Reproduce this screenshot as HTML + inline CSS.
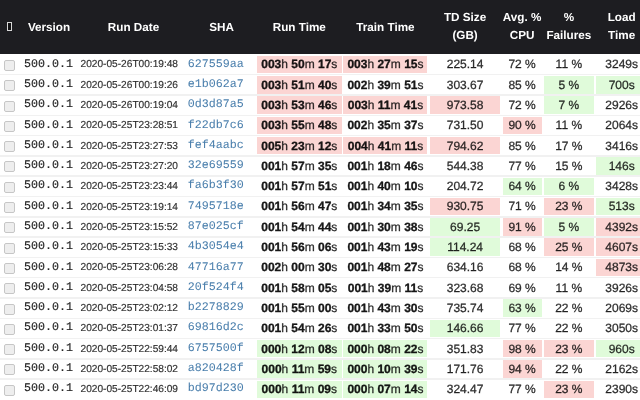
<!DOCTYPE html>
<html><head><meta charset="utf-8"><title>Runs</title>
<style>
html,body{margin:0;padding:0;background:#fff;width:640px;height:400px;overflow:hidden;}
.wrap{position:absolute;left:0;top:0;width:640px;height:400px;overflow:hidden;filter:blur(0.3px);}
body{position:relative;font-family:"Liberation Sans",Arial,sans-serif;color:rgba(0,0,0,.8);text-rendering:geometricPrecision;}
.hd{position:absolute;left:0;top:0;width:640px;height:54px;background:#1d1d21;}
.ht{position:absolute;color:#fff;font-weight:bold;font-size:11.7px;text-align:center;white-space:nowrap;line-height:18px;}
.c{position:absolute;height:17.5px;}
.p{background:#fbd5d3;}
.g{background:#e0fbda;}
.sep{position:absolute;left:0;width:640px;height:1.5px;background:#f1f1f1;}
.t{position:absolute;white-space:nowrap;font-size:12px;line-height:20px;height:20px;text-align:center;}
.t b{font-weight:bold;color:rgba(0,0,0,.9);-webkit-text-stroke:0.3px rgba(0,0,0,.9);}
.t{-webkit-text-stroke:0.3px rgba(0,0,0,.75);}
.d{position:absolute;white-space:nowrap;font-size:10.15px;-webkit-text-stroke:0.2px rgba(0,0,0,.75);line-height:20px;height:20px;}
.m{position:absolute;white-space:nowrap;font-family:"Liberation Mono",monospace;font-size:11.67px;text-rendering:geometricPrecision;line-height:20px;height:20px;}
.v{color:#222;-webkit-text-stroke:0.15px #222;}
.s{color:#4a7fac;-webkit-text-stroke:0.05px #4a7fac;}
.cb{position:absolute;width:8.8px;height:9px;border:1px solid #c6c6c6;border-radius:2px;background:#eeeeee;filter:blur(0.3px);}
.tofu{position:absolute;left:6.7px;top:22.1px;width:3.3px;height:6.8px;border:1px solid #d8d8d8;border-left-width:1.2px;background:#121214;}
</style></head><body><div class="wrap">

<div class="hd"></div>
<div class="tofu"></div>
<div class="ht" style="left:20px;width:58px;top:18.6px">Version</div>
<div class="ht" style="left:80px;width:107px;top:18.6px">Run Date</div>
<div class="ht" style="left:188.5px;width:66px;top:18.6px">SHA</div>
<div class="ht" style="left:257px;width:84.6px;top:18.6px">Run Time</div>
<div class="ht" style="left:343.4px;width:84.1px;top:18.6px">Train Time</div>
<div class="ht" style="left:430.2px;width:69.8px;top:8.7px">TD Size<br>(GB)</div>
<div class="ht" style="left:502.6px;width:39px;top:8.7px">Avg. %<br>CPU</div>
<div class="ht" style="left:543.7px;width:50.3px;top:8.7px">%<br>Failures</div>
<div class="ht" style="left:596.3px;width:50.7px;top:8.7px">Load<br>Time</div>
<div class="sep" style="top:73.95px"></div>
<div class="cb" style="left:4px;top:59.9px"></div>
<div class="m v" style="left:24.1px;top:54px">500.0.1</div>
<div class="d" style="left:80.6px;top:55px">2020-05-26T00:19:48</div>
<div class="m s" style="left:187.7px;top:54px">627559aa</div>
<div class="c p" style="left:257px;width:84.6px;top:55.7px"></div>
<div class="t" style="left:257px;width:84.6px;top:54px"><b>003</b>h <b>50</b>m <b>17</b>s</div>
<div class="c p" style="left:343.4px;width:84.1px;top:55.7px"></div>
<div class="t" style="left:343.4px;width:84.1px;top:54px"><b>003</b>h <b>27</b>m <b>15</b>s</div>
<div class="t" style="left:430.2px;width:69.8px;top:54px">225.14</div>
<div class="t" style="left:502.6px;width:39px;top:54px">72 %</div>
<div class="t" style="left:543.7px;width:50.3px;top:54px">11 %</div>
<div class="t" style="left:596.3px;width:50.7px;top:54px">3249s</div>
<div class="sep" style="top:94.25px"></div>
<div class="cb" style="left:4px;top:80.2px"></div>
<div class="m v" style="left:24.1px;top:74px">500.0.1</div>
<div class="d" style="left:80.6px;top:76px">2020-05-26T00:19:26</div>
<div class="m s" style="left:187.7px;top:74px">e1b062a7</div>
<div class="c p" style="left:257px;width:84.6px;top:76px"></div>
<div class="t" style="left:257px;width:84.6px;top:75px"><b>003</b>h <b>51</b>m <b>40</b>s</div>
<div class="t" style="left:343.4px;width:84.1px;top:75px"><b>002</b>h <b>39</b>m <b>51</b>s</div>
<div class="t" style="left:430.2px;width:69.8px;top:75px">303.67</div>
<div class="t" style="left:502.6px;width:39px;top:75px">85 %</div>
<div class="c g" style="left:543.7px;width:50.3px;top:76px"></div>
<div class="t" style="left:543.7px;width:50.3px;top:75px">5 %</div>
<div class="c g" style="left:596.3px;width:50.7px;top:76px"></div>
<div class="t" style="left:596.3px;width:50.7px;top:75px">700s</div>
<div class="sep" style="top:114.55px"></div>
<div class="cb" style="left:4px;top:100.5px"></div>
<div class="m v" style="left:24.1px;top:94px">500.0.1</div>
<div class="d" style="left:80.6px;top:96px">2020-05-26T00:19:04</div>
<div class="m s" style="left:187.7px;top:94px">0d3d87a5</div>
<div class="c p" style="left:257px;width:84.6px;top:96.3px"></div>
<div class="t" style="left:257px;width:84.6px;top:95px"><b>003</b>h <b>53</b>m <b>46</b>s</div>
<div class="c p" style="left:343.4px;width:84.1px;top:96.3px"></div>
<div class="t" style="left:343.4px;width:84.1px;top:95px"><b>003</b>h <b>11</b>m <b>41</b>s</div>
<div class="c p" style="left:430.2px;width:69.8px;top:96.3px"></div>
<div class="t" style="left:430.2px;width:69.8px;top:95px">973.58</div>
<div class="t" style="left:502.6px;width:39px;top:95px">72 %</div>
<div class="c g" style="left:543.7px;width:50.3px;top:96.3px"></div>
<div class="t" style="left:543.7px;width:50.3px;top:95px">7 %</div>
<div class="t" style="left:596.3px;width:50.7px;top:95px">2926s</div>
<div class="sep" style="top:134.85px"></div>
<div class="cb" style="left:4px;top:120.8px"></div>
<div class="m v" style="left:24.1px;top:115px">500.0.1</div>
<div class="d" style="left:80.6px;top:116px">2020-05-25T23:28:51</div>
<div class="m s" style="left:187.7px;top:115px">f22db7c6</div>
<div class="c p" style="left:257px;width:84.6px;top:116.6px"></div>
<div class="t" style="left:257px;width:84.6px;top:115px"><b>003</b>h <b>55</b>m <b>48</b>s</div>
<div class="t" style="left:343.4px;width:84.1px;top:115px"><b>002</b>h <b>35</b>m <b>37</b>s</div>
<div class="t" style="left:430.2px;width:69.8px;top:115px">731.50</div>
<div class="c p" style="left:502.6px;width:39px;top:116.6px"></div>
<div class="t" style="left:502.6px;width:39px;top:115px">90 %</div>
<div class="t" style="left:543.7px;width:50.3px;top:115px">11 %</div>
<div class="t" style="left:596.3px;width:50.7px;top:115px">2064s</div>
<div class="sep" style="top:155.15px"></div>
<div class="cb" style="left:4px;top:141.1px"></div>
<div class="m v" style="left:24.1px;top:135px">500.0.1</div>
<div class="d" style="left:80.6px;top:137px">2020-05-25T23:27:53</div>
<div class="m s" style="left:187.7px;top:135px">fef4aabc</div>
<div class="c p" style="left:257px;width:84.6px;top:136.9px"></div>
<div class="t" style="left:257px;width:84.6px;top:136px"><b>005</b>h <b>23</b>m <b>12</b>s</div>
<div class="c p" style="left:343.4px;width:84.1px;top:136.9px"></div>
<div class="t" style="left:343.4px;width:84.1px;top:136px"><b>004</b>h <b>41</b>m <b>11</b>s</div>
<div class="c p" style="left:430.2px;width:69.8px;top:136.9px"></div>
<div class="t" style="left:430.2px;width:69.8px;top:136px">794.62</div>
<div class="t" style="left:502.6px;width:39px;top:136px">85 %</div>
<div class="t" style="left:543.7px;width:50.3px;top:136px">17 %</div>
<div class="t" style="left:596.3px;width:50.7px;top:136px">3416s</div>
<div class="sep" style="top:175.45px"></div>
<div class="cb" style="left:4px;top:161.4px"></div>
<div class="m v" style="left:24.1px;top:155px">500.0.1</div>
<div class="d" style="left:80.6px;top:157px">2020-05-25T23:27:20</div>
<div class="m s" style="left:187.7px;top:155px">32e69559</div>
<div class="t" style="left:257px;width:84.6px;top:156px"><b>001</b>h <b>57</b>m <b>35</b>s</div>
<div class="t" style="left:343.4px;width:84.1px;top:156px"><b>001</b>h <b>18</b>m <b>46</b>s</div>
<div class="t" style="left:430.2px;width:69.8px;top:156px">544.38</div>
<div class="t" style="left:502.6px;width:39px;top:156px">77 %</div>
<div class="t" style="left:543.7px;width:50.3px;top:156px">15 %</div>
<div class="c g" style="left:596.3px;width:50.7px;top:157.2px"></div>
<div class="t" style="left:596.3px;width:50.7px;top:156px">146s</div>
<div class="sep" style="top:195.75px"></div>
<div class="cb" style="left:4px;top:181.7px"></div>
<div class="m v" style="left:24.1px;top:175px">500.0.1</div>
<div class="d" style="left:80.6px;top:177px">2020-05-25T23:23:44</div>
<div class="m s" style="left:187.7px;top:175px">fa6b3f30</div>
<div class="t" style="left:257px;width:84.6px;top:176px"><b>001</b>h <b>57</b>m <b>51</b>s</div>
<div class="t" style="left:343.4px;width:84.1px;top:176px"><b>001</b>h <b>40</b>m <b>10</b>s</div>
<div class="t" style="left:430.2px;width:69.8px;top:176px">204.72</div>
<div class="c g" style="left:502.6px;width:39px;top:177.5px"></div>
<div class="t" style="left:502.6px;width:39px;top:176px">64 %</div>
<div class="c g" style="left:543.7px;width:50.3px;top:177.5px"></div>
<div class="t" style="left:543.7px;width:50.3px;top:176px">6 %</div>
<div class="t" style="left:596.3px;width:50.7px;top:176px">3428s</div>
<div class="sep" style="top:216.05px"></div>
<div class="cb" style="left:4px;top:202px"></div>
<div class="m v" style="left:24.1px;top:196px">500.0.1</div>
<div class="d" style="left:80.6px;top:198px">2020-05-25T23:19:14</div>
<div class="m s" style="left:187.7px;top:196px">7495718e</div>
<div class="t" style="left:257px;width:84.6px;top:196px"><b>001</b>h <b>56</b>m <b>47</b>s</div>
<div class="t" style="left:343.4px;width:84.1px;top:196px"><b>001</b>h <b>34</b>m <b>35</b>s</div>
<div class="c p" style="left:430.2px;width:69.8px;top:197.8px"></div>
<div class="t" style="left:430.2px;width:69.8px;top:196px">930.75</div>
<div class="t" style="left:502.6px;width:39px;top:196px">71 %</div>
<div class="c p" style="left:543.7px;width:50.3px;top:197.8px"></div>
<div class="t" style="left:543.7px;width:50.3px;top:196px">23 %</div>
<div class="c g" style="left:596.3px;width:50.7px;top:197.8px"></div>
<div class="t" style="left:596.3px;width:50.7px;top:196px">513s</div>
<div class="sep" style="top:236.35px"></div>
<div class="cb" style="left:4px;top:222.3px"></div>
<div class="m v" style="left:24.1px;top:216px">500.0.1</div>
<div class="d" style="left:80.6px;top:218px">2020-05-25T23:15:52</div>
<div class="m s" style="left:187.7px;top:216px">87e025cf</div>
<div class="t" style="left:257px;width:84.6px;top:217px"><b>001</b>h <b>54</b>m <b>44</b>s</div>
<div class="t" style="left:343.4px;width:84.1px;top:217px"><b>001</b>h <b>30</b>m <b>38</b>s</div>
<div class="c g" style="left:430.2px;width:69.8px;top:218.1px"></div>
<div class="t" style="left:430.2px;width:69.8px;top:217px">69.25</div>
<div class="c p" style="left:502.6px;width:39px;top:218.1px"></div>
<div class="t" style="left:502.6px;width:39px;top:217px">91 %</div>
<div class="c g" style="left:543.7px;width:50.3px;top:218.1px"></div>
<div class="t" style="left:543.7px;width:50.3px;top:217px">5 %</div>
<div class="c p" style="left:596.3px;width:50.7px;top:218.1px"></div>
<div class="t" style="left:596.3px;width:50.7px;top:217px">4392s</div>
<div class="sep" style="top:256.65px"></div>
<div class="cb" style="left:4px;top:242.6px"></div>
<div class="m v" style="left:24.1px;top:236px">500.0.1</div>
<div class="d" style="left:80.6px;top:238px">2020-05-25T23:15:33</div>
<div class="m s" style="left:187.7px;top:236px">4b3054e4</div>
<div class="t" style="left:257px;width:84.6px;top:237px"><b>001</b>h <b>56</b>m <b>06</b>s</div>
<div class="t" style="left:343.4px;width:84.1px;top:237px"><b>001</b>h <b>43</b>m <b>19</b>s</div>
<div class="c g" style="left:430.2px;width:69.8px;top:238.4px"></div>
<div class="t" style="left:430.2px;width:69.8px;top:237px">114.24</div>
<div class="t" style="left:502.6px;width:39px;top:237px">68 %</div>
<div class="c p" style="left:543.7px;width:50.3px;top:238.4px"></div>
<div class="t" style="left:543.7px;width:50.3px;top:237px">25 %</div>
<div class="c p" style="left:596.3px;width:50.7px;top:238.4px"></div>
<div class="t" style="left:596.3px;width:50.7px;top:237px">4607s</div>
<div class="sep" style="top:276.95px"></div>
<div class="cb" style="left:4px;top:262.9px"></div>
<div class="m v" style="left:24.1px;top:257px">500.0.1</div>
<div class="d" style="left:80.6px;top:258px">2020-05-25T23:06:28</div>
<div class="m s" style="left:187.7px;top:257px">47716a77</div>
<div class="t" style="left:257px;width:84.6px;top:257px"><b>002</b>h <b>00</b>m <b>30</b>s</div>
<div class="t" style="left:343.4px;width:84.1px;top:257px"><b>001</b>h <b>48</b>m <b>27</b>s</div>
<div class="t" style="left:430.2px;width:69.8px;top:257px">634.16</div>
<div class="t" style="left:502.6px;width:39px;top:257px">68 %</div>
<div class="t" style="left:543.7px;width:50.3px;top:257px">14 %</div>
<div class="c p" style="left:596.3px;width:50.7px;top:258.7px"></div>
<div class="t" style="left:596.3px;width:50.7px;top:257px">4873s</div>
<div class="sep" style="top:297.25px"></div>
<div class="cb" style="left:4px;top:283.2px"></div>
<div class="m v" style="left:24.1px;top:277px">500.0.1</div>
<div class="d" style="left:80.6px;top:279px">2020-05-25T23:04:58</div>
<div class="m s" style="left:187.7px;top:277px">20f524f4</div>
<div class="t" style="left:257px;width:84.6px;top:278px"><b>001</b>h <b>58</b>m <b>05</b>s</div>
<div class="t" style="left:343.4px;width:84.1px;top:278px"><b>001</b>h <b>39</b>m <b>11</b>s</div>
<div class="t" style="left:430.2px;width:69.8px;top:278px">323.68</div>
<div class="t" style="left:502.6px;width:39px;top:278px">69 %</div>
<div class="t" style="left:543.7px;width:50.3px;top:278px">11 %</div>
<div class="t" style="left:596.3px;width:50.7px;top:278px">3926s</div>
<div class="sep" style="top:317.55px"></div>
<div class="cb" style="left:4px;top:303.5px"></div>
<div class="m v" style="left:24.1px;top:297px">500.0.1</div>
<div class="d" style="left:80.6px;top:299px">2020-05-25T23:02:12</div>
<div class="m s" style="left:187.7px;top:297px">b2278829</div>
<div class="t" style="left:257px;width:84.6px;top:298px"><b>001</b>h <b>55</b>m <b>00</b>s</div>
<div class="t" style="left:343.4px;width:84.1px;top:298px"><b>001</b>h <b>43</b>m <b>30</b>s</div>
<div class="t" style="left:430.2px;width:69.8px;top:298px">735.74</div>
<div class="c g" style="left:502.6px;width:39px;top:299.3px"></div>
<div class="t" style="left:502.6px;width:39px;top:298px">63 %</div>
<div class="t" style="left:543.7px;width:50.3px;top:298px">22 %</div>
<div class="t" style="left:596.3px;width:50.7px;top:298px">2069s</div>
<div class="sep" style="top:337.85px"></div>
<div class="cb" style="left:4px;top:323.8px"></div>
<div class="m v" style="left:24.1px;top:317px">500.0.1</div>
<div class="d" style="left:80.6px;top:319px">2020-05-25T23:01:37</div>
<div class="m s" style="left:187.7px;top:317px">69816d2c</div>
<div class="t" style="left:257px;width:84.6px;top:318px"><b>001</b>h <b>54</b>m <b>26</b>s</div>
<div class="t" style="left:343.4px;width:84.1px;top:318px"><b>001</b>h <b>33</b>m <b>50</b>s</div>
<div class="c g" style="left:430.2px;width:69.8px;top:319.6px"></div>
<div class="t" style="left:430.2px;width:69.8px;top:318px">146.66</div>
<div class="t" style="left:502.6px;width:39px;top:318px">77 %</div>
<div class="t" style="left:543.7px;width:50.3px;top:318px">22 %</div>
<div class="t" style="left:596.3px;width:50.7px;top:318px">3050s</div>
<div class="sep" style="top:358.15px"></div>
<div class="cb" style="left:4px;top:344.1px"></div>
<div class="m v" style="left:24.1px;top:338px">500.0.1</div>
<div class="d" style="left:80.6px;top:340px">2020-05-25T22:59:44</div>
<div class="m s" style="left:187.7px;top:338px">6757500f</div>
<div class="c g" style="left:257px;width:84.6px;top:339.9px"></div>
<div class="t" style="left:257px;width:84.6px;top:339px"><b>000</b>h <b>12</b>m <b>08</b>s</div>
<div class="c g" style="left:343.4px;width:84.1px;top:339.9px"></div>
<div class="t" style="left:343.4px;width:84.1px;top:339px"><b>000</b>h <b>08</b>m <b>22</b>s</div>
<div class="t" style="left:430.2px;width:69.8px;top:339px">351.83</div>
<div class="c p" style="left:502.6px;width:39px;top:339.9px"></div>
<div class="t" style="left:502.6px;width:39px;top:339px">98 %</div>
<div class="c p" style="left:543.7px;width:50.3px;top:339.9px"></div>
<div class="t" style="left:543.7px;width:50.3px;top:339px">23 %</div>
<div class="c g" style="left:596.3px;width:50.7px;top:339.9px"></div>
<div class="t" style="left:596.3px;width:50.7px;top:339px">960s</div>
<div class="sep" style="top:378.45px"></div>
<div class="cb" style="left:4px;top:364.4px"></div>
<div class="m v" style="left:24.1px;top:358px">500.0.1</div>
<div class="d" style="left:80.6px;top:360px">2020-05-25T22:58:02</div>
<div class="m s" style="left:187.7px;top:358px">a820428f</div>
<div class="c g" style="left:257px;width:84.6px;top:360.2px"></div>
<div class="t" style="left:257px;width:84.6px;top:359px"><b>000</b>h <b>11</b>m <b>59</b>s</div>
<div class="c g" style="left:343.4px;width:84.1px;top:360.2px"></div>
<div class="t" style="left:343.4px;width:84.1px;top:359px"><b>000</b>h <b>10</b>m <b>39</b>s</div>
<div class="t" style="left:430.2px;width:69.8px;top:359px">171.76</div>
<div class="c p" style="left:502.6px;width:39px;top:360.2px"></div>
<div class="t" style="left:502.6px;width:39px;top:359px">94 %</div>
<div class="t" style="left:543.7px;width:50.3px;top:359px">22 %</div>
<div class="t" style="left:596.3px;width:50.7px;top:359px">2162s</div>
<div class="cb" style="left:4px;top:384.7px"></div>
<div class="m v" style="left:24.1px;top:378px">500.0.1</div>
<div class="d" style="left:80.6px;top:380px">2020-05-25T22:46:09</div>
<div class="m s" style="left:187.7px;top:378px">bd97d230</div>
<div class="c g" style="left:257px;width:84.6px;top:380.5px"></div>
<div class="t" style="left:257px;width:84.6px;top:379px"><b>000</b>h <b>11</b>m <b>09</b>s</div>
<div class="c g" style="left:343.4px;width:84.1px;top:380.5px"></div>
<div class="t" style="left:343.4px;width:84.1px;top:379px"><b>000</b>h <b>07</b>m <b>14</b>s</div>
<div class="t" style="left:430.2px;width:69.8px;top:379px">324.47</div>
<div class="t" style="left:502.6px;width:39px;top:379px">77 %</div>
<div class="c p" style="left:543.7px;width:50.3px;top:380.5px"></div>
<div class="t" style="left:543.7px;width:50.3px;top:379px">23 %</div>
<div class="t" style="left:596.3px;width:50.7px;top:379px">2390s</div>
</div></body></html>
